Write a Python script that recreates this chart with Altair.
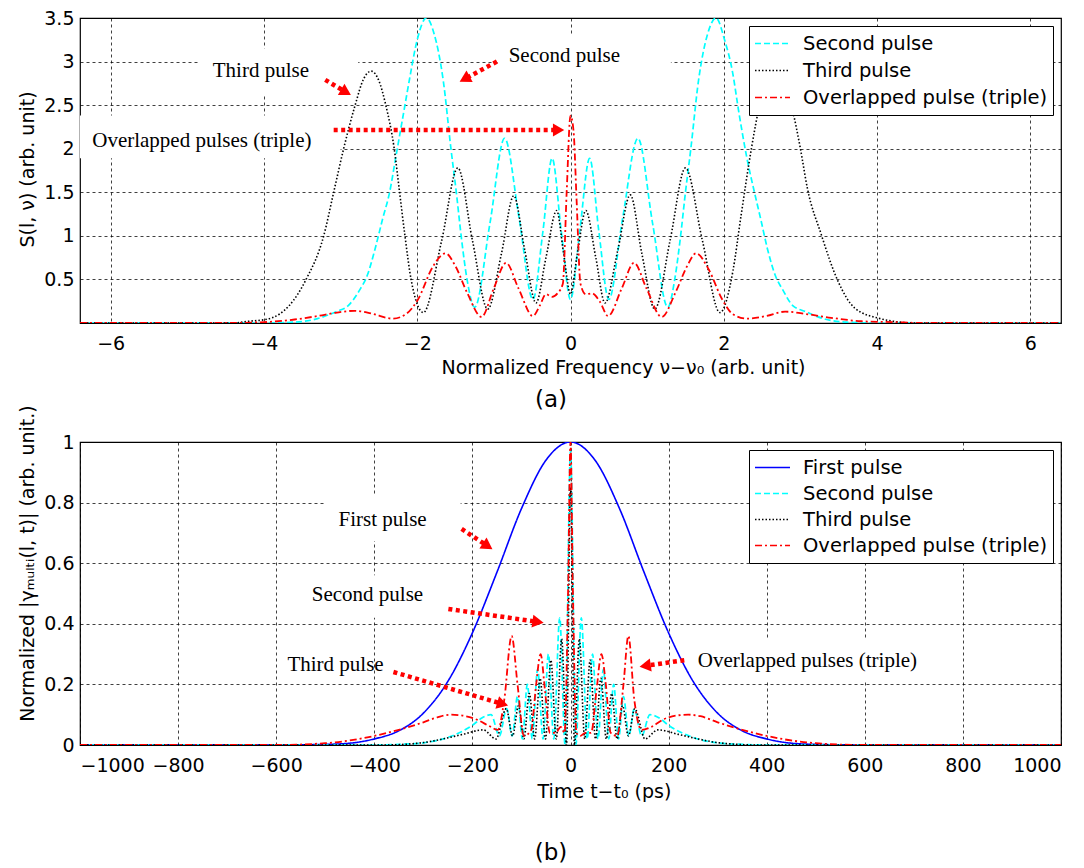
import math
import altair as alt
import pandas as pd

# ---------------- layout ----------------
W = 981
HA = 305
HB = 303
XA = [-6.4, 6.4]
YA = [0, 3.5]
XB = [-1000, 1000]
YB = [0, 1]

# ---------------- panel (a): spectra S(l, nu) ----------------
a_second_x = [-6.4, -4.0, -3.6, -3.3, -3.06, -2.9, -2.75, -2.65, -2.55, -2.45, -2.36, -2.28, -2.18, -2.1, -2.0,
              -1.88, -1.78, -1.66, -1.56, -1.49, -1.42, -1.35, -1.25, -1.05, -0.86, -0.67, -0.49, -0.36, -0.24,
              -0.12, 0.0, 0.12, 0.25, 0.37, 0.5, 0.68, 0.88, 1.07, 1.27, 1.36, 1.43, 1.5, 1.57, 1.67, 1.79, 1.9,
              2.01, 2.11, 2.2, 2.3, 2.4, 2.48, 2.57, 2.67, 2.77, 2.9, 3.07, 3.3, 3.6, 4.0, 6.4]
a_second_y = [0, 0, 0.01, 0.05, 0.13, 0.2, 0.38, 0.55, 0.85, 1.2, 1.5, 1.9, 2.4, 2.8, 3.25,
              3.5, 3.32, 2.78, 2.0, 1.5, 0.95, 0.5, 0.18, 1.15, 2.12, 1.2, 0.27, 1.05, 1.89,
              1.05, 0.27, 1.05, 1.89, 1.05, 0.27, 1.2, 2.12, 1.15, 0.18, 0.5, 0.95, 1.5, 2.0, 2.78, 3.32, 3.5,
              3.25, 2.9, 2.4, 1.9, 1.5, 1.2, 0.85, 0.55, 0.38, 0.2, 0.13, 0.05, 0.01, 0, 0]

a_third_x = [-6.4, -4.4, -4.2, -3.98, -3.8, -3.67, -3.45, -3.22, -3.09, -2.96, -2.81, -2.7, -2.6, -2.5, -2.41,
             -2.3, -2.23, -2.16, -2.08, -1.92, -1.68, -1.47, -1.28, -1.08, -0.9, -0.74, -0.6, -0.45, -0.32,
             -0.18, -0.09, 0.0, 0.09, 0.2, 0.33, 0.45, 0.62, 0.78, 0.93, 1.1, 1.3, 1.5, 1.72, 1.95, 2.12, 2.22,
             2.36, 2.48, 2.62, 2.75, 2.9, 3.0, 3.09, 3.27, 3.49, 3.71, 4.04, 4.3, 4.5, 6.4]
a_third_y = [0, 0, 0.02, 0.04, 0.1, 0.2, 0.5, 1.0, 1.5, 2.0, 2.5, 2.8, 2.89, 2.78, 2.5,
             2.0, 1.5, 1.0, 0.5, 0.12, 0.95, 1.78, 0.95, 0.16, 0.8, 1.46, 0.85, 0.23, 0.75,
             1.29, 0.8, 0.33, 0.8, 1.29, 0.75, 0.23, 0.85, 1.47, 0.8, 0.16, 0.95, 1.78, 0.95, 0.12, 0.6, 1.2,
             2.0, 2.55, 2.89, 2.8, 2.43, 2.0, 1.55, 1.02, 0.48, 0.17, 0.05, 0.01, 0, 0]

a_over_x = [-6.4, -4.5, -4.0, -3.6, -3.3, -3.05, -2.82, -2.6, -2.32, -2.15, -1.99, -1.8, -1.63, -1.5, -1.35,
            -1.16, -1.0, -0.84, -0.68, -0.49, -0.4, -0.32, -0.24, -0.17, -0.1, -0.05, 0.0, 0.04, 0.08, 0.13,
            0.2, 0.28, 0.38, 0.49, 0.67, 0.83, 0.99, 1.19, 1.37, 1.52, 1.64, 1.8, 1.98, 2.12, 2.3, 2.55, 2.8,
            3.1, 3.4, 3.8, 4.2, 4.6, 6.4]
a_over_y = [0, 0, 0.01, 0.04, 0.08, 0.12, 0.14, 0.11, 0.05, 0.1, 0.27, 0.64, 0.8, 0.65, 0.35,
            0.07, 0.4, 0.69, 0.4, 0.08, 0.2, 0.33, 0.3, 0.34, 0.45, 1.5, 2.38, 2.2, 1.4, 0.45,
            0.33, 0.34, 0.25, 0.08, 0.4, 0.69, 0.4, 0.07, 0.35, 0.65, 0.8, 0.62, 0.27, 0.1, 0.05, 0.08, 0.13,
            0.1, 0.06, 0.02, 0.01, 0, 0]

# ---------------- panel (b): |gamma_Multi(l, t)| ----------------
b_first_t = [-1000, -600, -500, -450, -400, -350, -300, -250, -200, -150, -100, -50, 0,
             50, 100, 150, 200, 250, 300, 350, 400, 450, 500, 600, 1000]
b_first_y = [0, 0, 0.002, 0.006, 0.02, 0.047, 0.105, 0.21, 0.37, 0.57, 0.78, 0.94, 1.0,
             0.94, 0.78, 0.57, 0.37, 0.21, 0.105, 0.047, 0.02, 0.006, 0.002, 0, 0]

b_second_t = [-1000, -400, -350, -300, -250, -200, -180, -162, -145, -130, -119, -108, -98, -88, -78, -67,
              -56, -45, -34, -22, -11, 0, 11, 22, 34, 45, 56, 67, 78, 88, 98, 108, 119, 130, 145, 162, 180,
              200, 250, 300, 350, 400, 1000]
b_second_y = [0, 0, 0.002, 0.007, 0.025, 0.065, 0.09, 0.10, 0.03, 0.12, 0.03, 0.16, 0.02, 0.2, 0.02, 0.25,
              0.02, 0.30, 0.02, 0.42, 0.0, 0.97, 0.0, 0.42, 0.02, 0.30, 0.02, 0.25, 0.02, 0.2, 0.02, 0.16,
              0.03, 0.12, 0.03, 0.10, 0.09, 0.065, 0.025, 0.007, 0.002, 0, 0]

b_third_t = [-1000, -380, -300, -260, -220, -178, -152, -131, -118, -106, -95, -84, -73, -62, -51, -40, -29,
             -18, -8, 0, 8, 18, 29, 40, 51, 62, 73, 84, 95, 106, 118, 131, 152, 178, 220, 260, 300, 380, 1000]
b_third_y = [0, 0, 0.008, 0.02, 0.035, 0.05, 0.02, 0.12, 0.03, 0.13, 0.02, 0.17, 0.02, 0.22, 0.02, 0.28, 0.02,
             0.35, 0.0, 0.85, 0.0, 0.35, 0.02, 0.28, 0.02, 0.22, 0.02, 0.17, 0.02, 0.13, 0.03, 0.12, 0.02, 0.05,
             0.035, 0.02, 0.008, 0, 0]

b_over_t = [-1000, -600, -500, -450, -400, -350, -300, -270, -245, -220, -190, -165, -148, -135, -120, -108,
            -95, -80, -70, -61, -52, -42, -30, -20, -12, -5, 0, 5, 12, 20, 30, 42, 53, 63, 72, 82, 95, 108,
            118, 130, 145, 165, 190, 215, 240, 265, 300, 350, 400, 450, 500, 600, 1000]
b_over_y = [0, 0, 0.006, 0.015, 0.03, 0.05, 0.075, 0.092, 0.10, 0.097, 0.083, 0.062, 0.05, 0.15, 0.36, 0.2,
            0.03, 0.05, 0.2, 0.30, 0.18, 0.04, 0.04, 0.06, 0.04, 0.5, 1.0, 0.5, 0.04, 0.03, 0.04, 0.04, 0.18,
            0.30, 0.2, 0.04, 0.03, 0.2, 0.36, 0.15, 0.05, 0.06, 0.085, 0.097, 0.10, 0.095, 0.075, 0.05, 0.03,
            0.015, 0.006, 0, 0]

# ---------------- annotations ----------------
a_note_text = ["Third pulse", "Second pulse", "Overlapped pulses (triple)"]
a_note_x = [-4.04, -0.08, -4.81]
a_note_y = [2.89, 3.06, 2.09]
a_arrow_x1 = [-3.2, -0.96, -3.09]
a_arrow_y1 = [2.79, 3.0, 2.215]
a_arrow_x2 = [-2.95, -1.36, -0.18]
a_arrow_y2 = [2.66, 2.81, 2.215]
a_box_x1 = [-4.85, -0.92, -6.4]
a_box_x2 = [-2.77, 1.31, -3.0]
a_box_y1 = [2.62, 2.8, 1.89]
a_box_y2 = [3.15, 3.3, 2.38]

b_note_text = ["First pulse", "Second pulse", "Third pulse", "Overlapped pulses (triple)"]
b_note_x = [-383, -414, -479, 483]
b_note_y = [0.743, 0.495, 0.264, 0.277]
b_arrow_x1 = [-222, -249, -361, 232]
b_arrow_y1 = [0.713, 0.449, 0.241, 0.28]
b_arrow_x2 = [-172, -70, -142, 156]
b_arrow_y2 = [0.66, 0.407, 0.137, 0.262]
b_box_x1 = [-500, -520, 251]
b_box_x2 = [-224, -240, 720]
b_box_y1 = [0.673, 0.42, 0.211]
b_box_y2 = [0.822, 0.56, 0.353]

COLORS = {"First pulse": "#0000FF", "Second pulse": "#00FFFF", "Third pulse": "#000000",
          "Overlapped pulse (triple)": "#FF0000"}
DASHES = {"First pulse": [1, 0], "Second pulse": [6, 3], "Third pulse": [1.5, 2],
          "Overlapped pulse (triple)": [7, 3, 2, 3]}
WIDTHS = {"First pulse": 1.6, "Second pulse": 1.7, "Third pulse": 1.6, "Overlapped pulse (triple)": 1.8}
A_SERIES = ["Second pulse", "Third pulse", "Overlapped pulse (triple)"]
B_SERIES = ["First pulse", "Second pulse", "Third pulse", "Overlapped pulse (triple)"]

SANS = "DejaVu Sans"
SERIF = "Liberation Serif"


def long_df(pairs):
    rows = []
    for name, xs, ys in pairs:
        for xv, yv in zip(xs, ys):
            rows.append({"x": xv, "y": yv, "series": name})
    return pd.DataFrame(rows)


def panel(df, series, xdom, ydom, xvals, yvals, xfmt, xtitle, ytitle, h, xt_x, xt_y, yt_y,
          notes, arrows, boxes, caption, cap_y, rows_pad):
    xsc = alt.Scale(domain=xdom, nice=False, zero=False)
    ysc = alt.Scale(domain=ydom, nice=False, zero=False)
    xax = alt.Axis(values=xvals, title=xtitle, format=xfmt, titleX=xt_x, titleY=xt_y, labelPadding=11,
                   titleAlign="center", titleBaseline="top")
    yax = alt.Axis(values=yvals, title=ytitle, format="~g", titleX=-53, titleY=yt_y, labelPadding=6,
                   titleAngle=270, titleAlign="center", titleBaseline="middle")
    X = lambda f="x": alt.X(f"{f}:Q", scale=xsc, axis=xax)
    Y = lambda f="y": alt.Y(f"{f}:Q", scale=ysc, axis=yax)
    leg = alt.Legend(title=None, orient="top-right", offset=8, strokeColor="black", fillColor="white",
                     padding=5, labelFont=SANS, labelFontSize=19.5, labelColor="black", labelLimit=0,
                     symbolType="stroke", symbolSize=1225, symbolStrokeWidth=1.6,
                     labelOffset=12, clipHeight=25, rowPadding=rows_pad, cornerRadius=0)
    color = alt.Color("series:N", scale=alt.Scale(domain=series, range=[COLORS[s] for s in series]), legend=leg)
    dash = alt.StrokeDash("series:N", scale=alt.Scale(domain=series, range=[DASHES[s] for s in series]),
                          legend=leg)

    box_df = pd.DataFrame({"x": boxes[0], "x2": boxes[1], "y": boxes[2], "y2": boxes[3]})
    box_layer = alt.Chart(box_df).mark_rect(color="white").encode(x=X(), x2="x2:Q", y=Y(), y2="y2:Q")

    lines = []
    for s in series:
        lines.append(
            alt.Chart(df).transform_filter(alt.datum.series == s)
            .mark_line(interpolate="monotone", strokeWidth=WIDTHS[s], clip=True)
            .encode(x=X(), y=Y(), color=color, strokeDash=dash)
        )

    sx = W / (xdom[1] - xdom[0])
    sy = h / (ydom[1] - ydom[0])
    ang = []
    for x1, y1, x2, y2 in zip(*arrows):
        dx = (x2 - x1) * sx
        dy = -(y2 - y1) * sy
        ang.append(math.degrees(math.atan2(dx, -dy)) % 360)
    arr_df = pd.DataFrame({"x": arrows[0], "y": arrows[1], "x2": arrows[2], "y2": arrows[3]})
    head_df = pd.DataFrame({"x": arrows[2], "y": arrows[3], "angle": ang})
    arr_layer = alt.Chart(arr_df).mark_rule(color="#FF0000", strokeWidth=4.5, strokeDash=[4, 3.5]).encode(
        x=X(), x2="x2:Q", y=Y(), y2="y2:Q")
    head_layer = alt.Chart(head_df).mark_point(shape="triangle", filled=True, color="#FF0000", opacity=1,
                                               size=170).encode(
        x=X(), y=Y(), angle=alt.Angle("angle:Q", scale=None))

    note_df = pd.DataFrame({"x": notes[1], "y": notes[2], "text": notes[0]})
    note_layer = alt.Chart(note_df).mark_text(font=SERIF, fontSize=21, color="black", align="center",
                                              baseline="middle").encode(x=X(), y=Y(), text="text:N")

    cap_layer = alt.Chart(pd.DataFrame({"t": [caption]})).mark_text(
        font=SANS, fontSize=23, color="black", align="center", baseline="middle").encode(
        text="t:N", x=alt.value(471), y=alt.value(cap_y))

    return alt.layer(box_layer, *lines, arr_layer, head_layer, note_layer, cap_layer).properties(
        width=W, height=h)


df_a = long_df([("Second pulse", a_second_x, a_second_y),
                ("Third pulse", a_third_x, a_third_y),
                ("Overlapped pulse (triple)", a_over_x, a_over_y)])
df_b = long_df([("First pulse", b_first_t, b_first_y),
                ("Second pulse", b_second_t, b_second_y),
                ("Third pulse", b_third_t, b_third_y),
                ("Overlapped pulse (triple)", b_over_t, b_over_y)])

panel_a = panel(df_a, A_SERIES, XA, YA, [-6, -4, -2, 0, 2, 4, 6], [0.5, 1, 1.5, 2, 2.5, 3, 3.5], "~g",
                "Normalized Frequency ν−ν₀ (arb. unit)", "S(l, ν)  (arb. unit)", HA, 543, 35, 151,
                (a_note_text, a_note_x, a_note_y), (a_arrow_x1, a_arrow_y1, a_arrow_x2, a_arrow_y2),
                (a_box_x1, a_box_x2, a_box_y1, a_box_y2), "(a)", 382, 2)

panel_b = panel(df_b, B_SERIES, XB, YB, list(range(-1000, 1001, 200)), [0, 0.2, 0.4, 0.6, 0.8, 1], "d",
                "Time t−t₀    (ps)", "Normalized  |γₘᵤₗₜᵢ(l, t)| (arb. unit.)", HB, 524, 37, 121,
                (b_note_text, b_note_x, b_note_y), (b_arrow_x1, b_arrow_y1, b_arrow_x2, b_arrow_y2),
                (b_box_x1, b_box_x2, b_box_y1, b_box_y2), "(b)", 411, 1)

chart = (
    alt.vconcat(panel_a, panel_b, spacing=119, bounds="flush")
    .resolve_scale(color="independent", strokeDash="independent", x="independent", y="independent")
    .resolve_legend(color="independent", strokeDash="independent")
    .properties(padding={"left": 9, "top": 0, "right": 5, "bottom": 5}, background="white")
    .configure_axis(gridColor="black", gridDash=[3, 3], gridOpacity=0.75, gridWidth=1, domain=False,
                    ticks=False, labelFont=SANS, labelFontSize=19, labelColor="black",
                    titleFont=SANS, titleFontSize=19, titleFontWeight="normal", titleColor="black")
    .configure_view(stroke="black", strokeWidth=1.2)
)

chart.save("out.html", embed_options={"renderer": "svg", "actions": False})
